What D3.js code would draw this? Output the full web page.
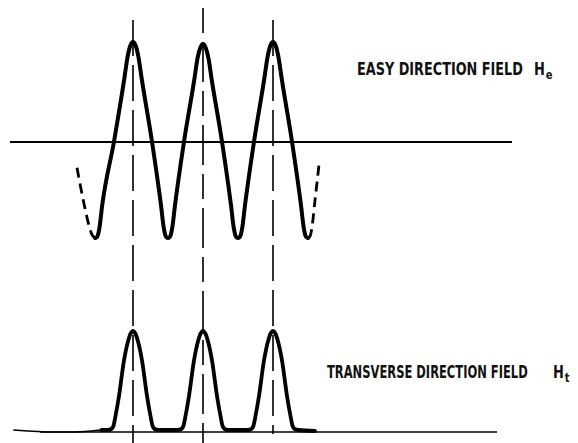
<!DOCTYPE html>
<html>
<head>
<meta charset="utf-8">
<script src="https://cdn.jsdelivr.net/npm/d3@7"></script>
<style>
  html, body { margin: 0; padding: 0; background: #fff; }
  svg { display: block; }
  .lbl { font-family: "Liberation Sans Narrow", "DejaVu Sans Condensed", "Liberation Sans", sans-serif; font-stretch: condensed; font-weight: bold; fill: #111; }
</style>
</head>
<body>
<svg id="chart" width="578" height="443"></svg>
<script>
// ---------- DATA ----------
// field-peak positions (in periods)
const peakPositions = [0, 1, 2];

// easy-direction field He (solid part), x in periods, value normalised to peak
const upperX = [-0.54, -0.51, -0.48, -0.44, -0.27, -0.12, -0.08, -0.04, 0.00,
                 0.04, 0.08, 0.12, 0.27, 0.40, 0.44, 0.47, 0.50,
                 0.53, 0.56, 0.60, 0.73, 0.88, 0.92, 0.96, 1.00,
                 1.04, 1.08, 1.12, 1.27, 1.40, 1.44, 1.47, 1.50,
                 1.53, 1.56, 1.60, 1.73, 1.88, 1.92, 1.96, 2.00,
                 2.04, 2.08, 2.12, 2.27, 2.40, 2.44, 2.47, 2.50];
const upperV = [-0.98, -0.965, -0.88, -0.65, 0.00, 0.65, 0.84, 0.96, 1.00,
                 0.96, 0.84, 0.65, 0.00, -0.65, -0.88, -0.965, -0.98,
                -0.965, -0.88, -0.65, 0.00, 0.64, 0.83, 0.94, 0.98,
                 0.94, 0.83, 0.64, 0.00, -0.65, -0.88, -0.965, -0.98,
                -0.965, -0.88, -0.65, 0.00, 0.65, 0.84, 0.96, 1.00,
                 0.96, 0.84, 0.65, 0.00, -0.65, -0.88, -0.965, -0.98];

// dashed continuations of He at both ends
const upperLeftX  = [-0.80, -0.71, -0.63, -0.59, -0.56, -0.54];
const upperLeftV  = [-0.27, -0.60, -0.85, -0.94, -0.97, -0.98];
const upperRightX = [2.50, 2.53, 2.555, 2.60, 2.66];
const upperRightV = [-0.98, -0.96, -0.88, -0.60, -0.22];

// transverse-direction field Ht: faint lead-in, then the peaks
const lowerLeadX = [-1.71, -1.50, -1.20, -0.90, -0.60, -0.45];
const lowerLeadV = [0.01, 0.00, -0.01, -0.01, 0.00, 0.01];
const lowerX = [-0.45, -0.36, -0.31, -0.28, -0.25, -0.20, -0.13, -0.07, -0.03, 0.00,
                 0.03, 0.07, 0.13, 0.20, 0.25, 0.28, 0.31, 0.36,
                 0.64, 0.69, 0.72, 0.75, 0.80, 0.87, 0.93, 0.97, 1.00,
                 1.03, 1.07, 1.13, 1.20, 1.25, 1.28, 1.31, 1.36,
                 1.64, 1.69, 1.72, 1.75, 1.80, 1.87, 1.93, 1.97, 2.00,
                 2.03, 2.07, 2.13, 2.20, 2.25, 2.28, 2.31, 2.36, 2.60];
const lowerV = [0.01, 0.01, 0.02, 0.05, 0.15, 0.35, 0.70, 0.90, 0.98, 1.00,
                0.98, 0.90, 0.70, 0.35, 0.15, 0.05, 0.02, 0.01,
                0.01, 0.02, 0.05, 0.15, 0.35, 0.70, 0.90, 0.98, 1.00,
                0.98, 0.90, 0.70, 0.35, 0.15, 0.05, 0.02, 0.01,
                0.01, 0.02, 0.05, 0.15, 0.35, 0.70, 0.90, 0.98, 1.00,
                0.98, 0.90, 0.70, 0.35, 0.15, 0.05, 0.02, 0.01, 0.00];

const labelUpper = "EASY DIRECTION FIELD";
const labelLower = "TRANSVERSE DIRECTION FIELD";
const symUpper = ["H", "e"];
const symLower = ["H", "t"];

// ---------- DRAWING ----------
const svg = d3.select("#chart");
const x = d3.scaleLinear().domain([0, 1]).range([133, 203]);
const yU = d3.scaleLinear().domain([-1, 1]).range([240, 42]);
const yL = d3.scaleLinear().domain([0, 1]).range([431, 331]);

const zip = (xs, vs) => xs.map((d, i) => [d, vs[i]]);
const lineU = d3.line().x(d => x(d[0])).y(d => yU(d[1])).curve(d3.curveMonotoneX);
const lineL = d3.line().x(d => x(d[0])).y(d => yL(d[1])).curve(d3.curveMonotoneX);

// axes (zero lines)
svg.append("line").attr("x1", 10).attr("x2", 512).attr("y1", yU(0) + 1).attr("y2", yU(0) + 1)
  .attr("stroke", "#000").attr("stroke-width", 2);
svg.append("line").attr("x1", 40).attr("x2", 497).attr("y1", yL(0) + 1).attr("y2", yL(0) + 1)
  .attr("stroke", "#000").attr("stroke-width", 1.6);

// vertical dashed reference lines through the peaks
const vTops = [20, 8, 20];
const vBottoms = [443, 443, 434];
const vDash = ["36,9", "25,9,40,9", "36,9"];
peakPositions.forEach((p, i) => {
  svg.append("line")
    .attr("x1", x(p)).attr("x2", x(p))
    .attr("y1", vTops[i]).attr("y2", vBottoms[i])
    .attr("stroke", "#000").attr("stroke-width", 1.6)
    .attr("stroke-dasharray", vDash[i]);
});

// curves
svg.append("path").datum(zip(upperX, upperV)).attr("d", lineU)
  .attr("fill", "none").attr("stroke", "#000").attr("stroke-width", 4)
  .attr("stroke-linejoin", "round").attr("stroke-linecap", "round");
[zip(upperLeftX, upperLeftV), zip(upperRightX, upperRightV)].forEach(seg => {
  svg.append("path").datum(seg).attr("d", lineU)
    .attr("fill", "none").attr("stroke", "#000").attr("stroke-width", 2.8)
    .attr("stroke-dasharray", "10,6");
});
svg.append("path").datum(zip(lowerLeadX, lowerLeadV)).attr("d", lineL)
  .attr("fill", "none").attr("stroke", "#000").attr("stroke-width", 1.5);
svg.append("path").datum(zip(lowerX, lowerV)).attr("d", lineL)
  .attr("fill", "none").attr("stroke", "#000").attr("stroke-width", 3.8)
  .attr("stroke-linejoin", "round").attr("stroke-linecap", "round");

// labels (condensed by horizontal scaling so that the box really is narrow)
function label(txt, x0, x1, yb, sym, hx) {
  const g = svg.append("g");
  const t = g.append("text").attr("class", "lbl").attr("x", 0).attr("y", 0)
    .attr("font-size", 17).text(txt);
  const w = t.node().getComputedTextLength();
  g.attr("transform", `translate(${x0},${yb}) scale(${(x1 - x0) / w},1)`);
  const h = svg.append("g").attr("transform", `translate(${hx},${yb}) scale(0.85,1)`);
  const s = h.append("text").attr("class", "lbl").attr("x", 0).attr("y", 0).attr("font-size", 17);
  s.append("tspan").text(sym[0]);
  s.append("tspan").attr("dy", 4).attr("dx", 1).attr("font-size", 13).text(sym[1]);
}
label(labelUpper, 357, 523, 75, symUpper, 534);
label(labelLower, 327, 528, 378, symLower, 553);
</script>
</body>
</html>
